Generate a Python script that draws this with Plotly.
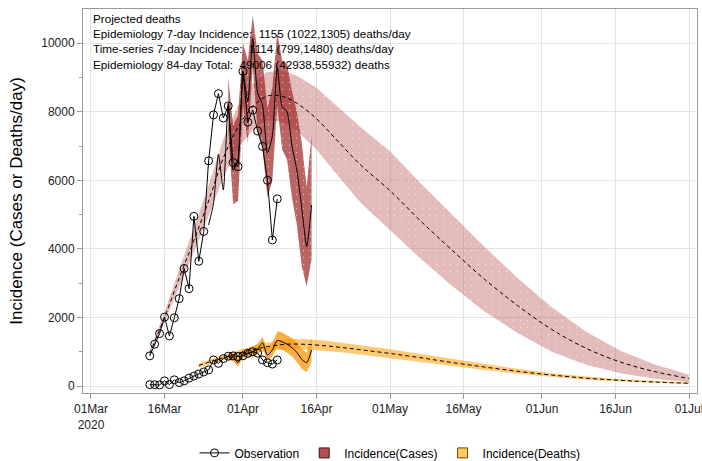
import pandas as pd
import plotly.graph_objects as go

BASE = pd.Timestamp("2020-03-01")

# ---------------- data ----------------
obs_dates = pd.date_range("2020-03-13", periods=27, freq="D")
obs_cases = [880, 1220, 1530, 2010, 1460, 1990, 2550, 3430, 2840, 4950, 3640, 4510, 6570, 7910,
             8530, 7820, 8170, 6520, 6400, 9180, 7700, 8050, 7440, 6990, 6000, 4260, 5460]
obs_deaths = [40, 40, 30, 150, 40, 180, 100, 150, 230, 290, 350, 410, 470, 760, 660, 800, 870,
              880, 860, 880, 950, 1000, 960, 760, 680, 640, 760]

# epidemiology model (cases)
epi_case_days = [12, 15, 18, 21, 24, 27, 30, 33, 36, 39, 42, 46, 50, 55, 61, 67, 73, 80, 87, 94,
                 101, 108, 115, 122]
epi_case_mid = [950, 2000, 3150, 4250, 5400, 6650, 7550, 8150, 8460, 8450, 8250, 7800, 7200, 6450,
                5700, 4850, 4050, 3150, 2350, 1650, 1100, 700, 420, 220]
epi_case_hi = [1030, 2150, 3400, 4600, 5850, 7200, 8170, 8830, 9160, 9200, 9050, 8700, 8200, 7550,
               6850, 5950, 5100, 4100, 3150, 2300, 1580, 1030, 630, 330]
epi_case_lo = [870, 1850, 2900, 3900, 4950, 6100, 6930, 7470, 7760, 7700, 7450, 6900, 6200, 5350,
               4550, 3750, 3000, 2200, 1550, 1000, 620, 370, 210, 110]

# epidemiology model (deaths)
epi_death_days = [22, 25, 28, 31, 34, 37, 40, 44, 48, 52, 56, 61, 67, 73, 80, 87, 94, 101, 108,
                  115, 122]
epi_death_mid = [600, 740, 870, 990, 1090, 1170, 1220, 1215, 1170, 1110, 1040, 950, 830, 700, 560,
                 430, 320, 230, 165, 115, 80]
epi_death_hi = [660, 810, 950, 1080, 1200, 1300, 1370, 1365, 1320, 1250, 1170, 1070, 940, 800,
                645, 500, 375, 275, 200, 140, 100]
epi_death_lo = [540, 670, 790, 900, 980, 1040, 1070, 1065, 1020, 970, 910, 830, 720, 600, 475,
                360, 265, 185, 130, 90, 60]

# time-series model (cases)
ts_case_days = list(range(24, 46))
ts_case_mid = [4700, 5330, 6760, 5720, 8250, 6300, 6600, 9170, 8300, 10150, 8550, 8200, 6800,
               7300, 9300, 8150, 8000, 7000, 6300, 5200, 4070, 5280]
ts_band_days = list(range(28, 46))
ts_case_hi = [9000, 7600, 7900, 10000, 9500, 10800, 9700, 9500, 8100, 8700, 10300, 9500, 9400,
              8600, 8000, 7100, 5800, 7300]
ts_case_lo = [7500, 5300, 5400, 8200, 7100, 9300, 7400, 6900, 5500, 6000, 8200, 6900, 6600, 5500,
              4700, 3500, 2900, 3700]

# time-series model (deaths)
ts_death_mid = [850, 830, 680, 950, 960, 1000, 1080, 1265, 900, 1050, 1330, 1290, 1220, 1120, 980,
                780, 680, 1050]
ts_death_hi = [950, 950, 800, 1080, 1100, 1150, 1240, 1430, 1080, 1250, 1600, 1560, 1480, 1400,
               1260, 1080, 980, 1400]
ts_death_lo = [760, 720, 570, 830, 830, 860, 920, 1100, 740, 860, 1120, 1050, 970, 860, 700, 500,
               400, 700]

tick_days = [0, 15, 31, 46, 61, 76, 92, 107, 122]
tick_text = ["01Mar<br>2020", "16Mar", "01Apr", "16Apr", "01May", "16May", "01Jun", "16Jun",
             "01Jul"]
y_ticks = [0, 2000, 4000, 6000, 8000, 10000]
y_minor = [1000, 3000, 5000, 7000, 9000]

annot_lines = [
    "Projected deaths",
    "Epidemiology 7-day Incidence:  1155 (1022,1305) deaths/day",
    "Time-series 7-day Incidence:  1114 (799,1480) deaths/day",
    "Epidemiology 84-day Total:  49006 (42938,55932) deaths",
]


def to_dates(days):
    return [BASE + pd.Timedelta(days=x) for x in days]


def band(days, hi, lo):
    dts = to_dates(days)
    return dts + dts[::-1], list(hi) + list(lo)[::-1]


FONT = "Liberation Sans, Arial, sans-serif"
C_LIGHT = "rgba(185,85,85,0.40)"
C_DARK = "rgba(160,40,40,0.72)"
C_OR_LIGHT = "rgba(255,168,30,0.62)"
C_OR_DARK = "rgba(250,150,10,0.75)"


def pat(bg):
    return dict(shape=".", bgcolor=bg, fgcolor="white", fgopacity=0.55, size=7, solidity=0.03)


fig = go.Figure()

bx, by = band(epi_case_days, epi_case_hi, epi_case_lo)
fig.add_trace(go.Scatter(x=bx, y=by, fill="toself", fillcolor=C_LIGHT, fillpattern=pat(C_LIGHT),
                         line=dict(width=0), mode="lines", showlegend=False, hoverinfo="skip"))
bx, by = band(ts_band_days, ts_case_hi, ts_case_lo)
fig.add_trace(go.Scatter(x=bx, y=by, fill="toself", fillcolor=C_DARK, fillpattern=pat(C_DARK),
                         line=dict(width=0), mode="lines", showlegend=False, hoverinfo="skip"))
bx, by = band(epi_death_days, epi_death_hi, epi_death_lo)
fig.add_trace(go.Scatter(x=bx, y=by, fill="toself", fillcolor=C_OR_LIGHT,
                         line=dict(width=0), mode="lines", showlegend=False, hoverinfo="skip"))
bx, by = band(ts_band_days, ts_death_hi, ts_death_lo)
fig.add_trace(go.Scatter(x=bx, y=by, fill="toself", fillcolor=C_OR_DARK,
                         line=dict(width=0), mode="lines", showlegend=False, hoverinfo="skip"))

fig.add_trace(go.Scatter(x=to_dates(epi_case_days), y=epi_case_mid, mode="lines",
                         line=dict(color="black", width=1, dash="4px,3px", shape="spline"),
                         showlegend=False))
fig.add_trace(go.Scatter(x=to_dates(epi_death_days), y=epi_death_mid, mode="lines",
                         line=dict(color="black", width=1, dash="4px,3px", shape="spline"),
                         showlegend=False))
fig.add_trace(go.Scatter(x=to_dates(ts_case_days), y=ts_case_mid, mode="lines",
                         line=dict(color="black", width=1, shape="spline", smoothing=0.6),
                         showlegend=False))
fig.add_trace(go.Scatter(x=to_dates(ts_band_days), y=ts_death_mid, mode="lines",
                         line=dict(color="black", width=1, shape="spline", smoothing=0.6),
                         showlegend=False))

obs_marker = dict(symbol="circle-open", size=8, color="black", line=dict(width=1))
fig.add_trace(go.Scatter(x=obs_dates, y=obs_cases, mode="lines+markers", name="Observation",
                         line=dict(color="black", width=1), marker=obs_marker))
fig.add_trace(go.Scatter(x=obs_dates, y=obs_deaths, mode="lines+markers", name="Observation",
                         line=dict(color="black", width=1), marker=obs_marker, showlegend=False))

# legend-only entries
fig.add_trace(go.Scatter(x=[None], y=[None], mode="markers", name="Incidence(Cases)",
                         marker=dict(symbol="square", size=10, color="rgb(180,80,80)",
                                     line=dict(color="rgb(70,20,20)", width=1))))
fig.add_trace(go.Scatter(x=[None], y=[None], mode="markers", name="Incidence(Deaths)",
                         marker=dict(symbol="square", size=10, color="rgb(255,200,90)",
                                     line=dict(color="rgb(110,70,20)", width=1))))

fig.add_annotation(xref="paper", yref="paper", x=0.013, y=0.997, xanchor="left", yanchor="top",
                   align="left", showarrow=False, text="<br>".join(annot_lines),
                   font=dict(family=FONT, size=11.7, color="black"))

axis_common = dict(showline=True, linecolor="#9a9a9a", linewidth=1, mirror=True,
                   showgrid=True, gridcolor="#e4e4e4", gridwidth=1, zeroline=False,
                   ticks="outside", ticklen=5, tickcolor="#9a9a9a", automargin=False,
                   ticklabeloverflow="allow",
                   tickfont=dict(family=FONT, size=12, color="#222"))

fig.update_layout(
    width=702, height=461,
    margin=dict(l=83, r=5, t=9, b=68, autoexpand=False),
    paper_bgcolor="white", plot_bgcolor="white",
    font=dict(family=FONT, size=12, color="black"),
    xaxis=dict(type="date", range=[BASE - pd.Timedelta(hours=39), BASE + pd.Timedelta(days=122, hours=39)],
               tickmode="array", tickvals=to_dates(tick_days), ticktext=tick_text, **axis_common),
    yaxis=dict(range=[-204, 11000], tickmode="array", tickvals=y_ticks,
               ticktext=[str(v) for v in y_ticks],
               minor=dict(ticks="outside", tickvals=y_minor, ticklen=3,
                          tickcolor="#9a9a9a", showgrid=False),
               title=dict(text="Incidence (Cases or Deaths/day)",
                          font=dict(family=FONT, size=17, color="black"), standoff=14),
               **axis_common),
    legend=dict(orientation="h", x=0.5, xanchor="center", y=-0.156, yanchor="middle",
                font=dict(family=FONT, size=12, color="black"), bgcolor="rgba(0,0,0,0)"),
)

fig.write_html("out.html")
